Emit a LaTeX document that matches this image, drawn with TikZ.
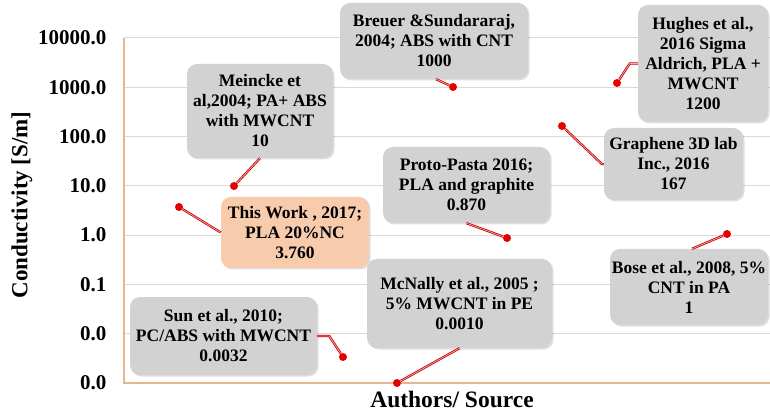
\documentclass[tikz,border=0pt]{standalone}
\usepackage{fontspec}
\setmainfont{Liberation Serif}
\usetikzlibrary{shadows}

\definecolor{axistan}{RGB}{228,184,142}
\definecolor{gridgray}{RGB}{217,217,217}
\definecolor{boxgray}{RGB}{210,210,210}
\definecolor{boxorange}{RGB}{248,203,173}
\definecolor{ptred}{RGB}{230,0,0}

\begin{document}
\begin{tikzpicture}[x=1pt, y=-1pt,
	every node/.style={font=\bfseries},
	callout/.style={fill=boxgray, rounded corners=10pt, inner sep=0pt, align=center,
		font=\bfseries\fontsize{17.5}{20}\selectfont,
		drop shadow={shadow xshift=1.5pt, shadow yshift=-1.5pt, opacity=0.25}},
	datapt/.style={circle, fill=ptred, inner sep=0pt, minimum size=8pt},
	leader/.style={draw=ptred!85!black, double=red!35, double distance=0.7pt, line width=0.8pt}]
	\useasboundingbox (0,0) rectangle (770,411);
	% grid and axes
	\foreach \v [count=\i from 0] in {0.0,0.0,0.1,1.0,10.0,100.0,1000.0,10000.0} {
		\draw[gridgray, line width=1pt] (124,383-\i*49.3) -- (770,383-\i*49.3);
		\node[anchor=east, font=\bfseries\fontsize{21}{25}\selectfont] (tick\i) at (110,383-\i*49.3) {\v};
	}
	\draw[axistan, line width=1.6pt] (124,38) -- (124,383) -- (770,383);
	\node[rotate=90, font=\bfseries\fontsize{23}{27}\selectfont] (ylab) at (22,205) {Conductivity [S/m]};
	\node[font=\bfseries\fontsize{23.5}{28}\selectfont] (xlab) at (452,399) {Authors/ Source};
	% call-outs
	\node[callout, minimum width=146pt, minimum height=94pt] (meincke) at (260,111) {Meincke et\\ al,2004; PA+ ABS\\ with MWCNT\\ 10};
	\node[callout, minimum width=188pt, minimum height=76pt] (breuer) at (434,41) {Breuer \&Sundararaj,\\ 2004; ABS with CNT\\ 1000};
	\node[callout, minimum width=130pt, minimum height=117pt] (hughes) at (703,63.5) {Hughes et al.,\\ 2016 Sigma\\ Aldrich, PLA +\\ MWCNT\\ 1200};
	\node[callout, minimum width=139pt, minimum height=72pt] (graphene) at (673.5,164) {Graphene 3D lab\\ Inc., 2016\\ 167};
	\node[callout, minimum width=167pt, minimum height=76pt] (proto) at (466.5,185) {Proto-Pasta 2016;\\ PLA and graphite\\ 0.870};
	\node[callout, fill=boxorange, minimum width=148pt, minimum height=71pt] (thiswork) at (295,232.5) {This Work , 2017;\\ PLA 20\%NC\\ 3.760};
	\node[callout, minimum width=158pt, minimum height=76pt] (bose) at (689,287) {Bose et al., 2008, 5\%\\ CNT in PA\\ 1};
	\node[callout, minimum width=185pt, minimum height=89pt] (mcnally) at (459.5,303.5) {McNally et al., 2005 ;\\ 5\% MWCNT in PE\\ 0.0010};
	\node[callout, minimum width=187pt, minimum height=78pt] (sun) at (223.5,336) {Sun et al., 2010;\\ PC/ABS with MWCNT\\ 0.0032};
	% data points
	\node[datapt] (meinckept) at (234,186) {};
	\node[datapt] (breuerpt) at (453,87) {};
	\node[datapt] (hughespt) at (617,83) {};
	\node[datapt] (graphenept) at (562,126) {};
	\node[datapt] (protopt) at (507,238) {};
	\node[datapt] (thisworkpt) at (179,207) {};
	\node[datapt] (bosept) at (727,234) {};
	\node[datapt] (mcnallypt) at (397,383) {};
	\node[datapt] (sunpt) at (343,357) {};
	% leaders
	\draw[leader] (meinckept) -- (meincke.south);
	\draw[leader] (breuerpt) -- ([xshift=2pt]breuer.south);
	\draw[leader] (hughespt) -- ([xshift=-8pt]hughes.west) -- (hughes.west);
	\draw[leader] (graphenept) -- ([xshift=-2pt]graphene.west) -- (graphene.west);
	\draw[leader] (protopt) -- (proto.south);
	\draw[leader] (thisworkpt) -- (thiswork.west);
	\draw[leader] (bosept) -- ([xshift=3pt]bose.north);
	\draw[leader] (mcnallypt) -- (mcnally.south);
	\draw[leader] (sun.east) -- ++(12,0) -- (sunpt);
\end{tikzpicture}
\end{document}
